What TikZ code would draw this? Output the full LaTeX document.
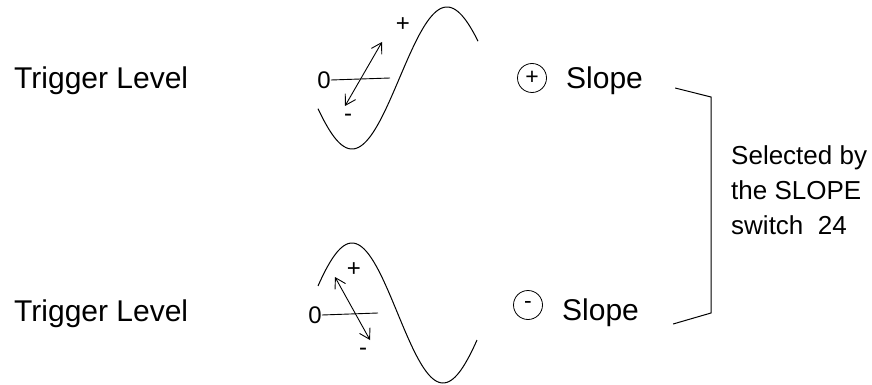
\documentclass[tikz,border=0pt]{standalone}
\usepackage{fontspec}
\setmainfont{Liberation Sans}
\usetikzlibrary{positioning,arrows.meta,calc}

\begin{document}
\begin{tikzpicture}[x=1pt, y=-1pt,
    lbl/.style={font=\fontsize{30}{36}\selectfont, inner sep=0pt, anchor=base west},
    tick/.style={font=\fontsize{24}{24}\selectfont, inner sep=0pt},
    note/.style={font=\fontsize{26}{35}\selectfont, align=left, inner sep=0pt, anchor=west},
    wave/.style={line width=1pt},
    lvl/.style={line width=0.9pt},
    arr/.style={{Straight Barb[length=10pt,width=12pt]}-{Straight Barb[length=10pt,width=12pt]}, line width=0.9pt},
    sign/.style={circle, draw, line width=0.8pt, minimum size=29pt, inner sep=0pt, font=\fontsize{23}{23}\selectfont},
    brk/.style={line width=1pt},
  ]
  \useasboundingbox (0,0) rectangle (872,385);

  % rising edge
  \node[lbl] (trigA) at (14,89) {Trigger Level};
  \node[tick] (zeroA) at (324,80) {0};
  \coordinate (lvlA) at (390,78);
  \draw[lvl] (zeroA.east) -- (lvlA);
  \draw[wave] plot[domain=318:478, samples=80, smooth] (\x, {78 - 71*sin((\x-399.5)*180/95)});
  \coordinate (hiA) at (382,42);
  \coordinate (loA) at (345,106);
  \draw[arr] (loA) -- (hiA);
  \node[tick] (plusA) at (403,25) {+};
  \node[tick] (minusA) at (348,118) {-};
  \node[sign] (posS) at (532,78) {+};
  \node[lbl] (slopeA) at (566,89) {Slope};

  % falling edge
  \node[lbl] (trigB) at (14,321) {Trigger Level};
  \node[tick] (zeroB) at (315,315) {0};
  \coordinate (lvlB) at (378,313);
  \draw[lvl] (zeroB.east) -- (lvlB);
  \draw[wave] plot[domain=318:477, samples=80, smooth] (\x, {313 + 70*sin((\x-397.5)*180/91)});
  \coordinate (hiB) at (335,277);
  \coordinate (loB) at (370,340);
  \draw[arr] (loB) -- (hiB);
  \node[tick] (plusB) at (354,270) {+};
  \node[tick] (minusB) at (363,352) {-};
  \node[sign] (negS) at (528,305) {-};
  \node[lbl] (slopeB) at (562,320) {Slope};

  % bracket and note
  \coordinate (brTop) at (711,97);
  \coordinate (brBot) at (711,313);
  \draw[brk] ($(slopeA.base east)+(32,-1)$) -- (brTop) -- (brBot) -- ($(slopeB.base east)+(34,4)$);
  \node[note] (selnote) at (731,190) {Selected by\\the SLOPE\\switch\ \ 24};
\end{tikzpicture}
\end{document}
